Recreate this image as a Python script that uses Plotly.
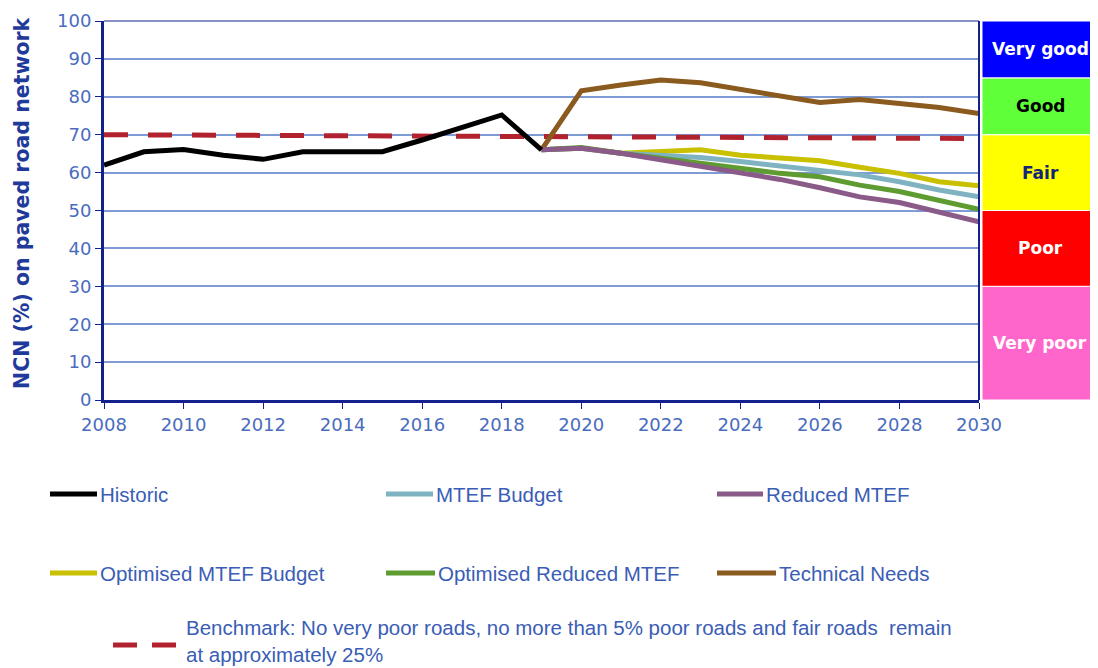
import plotly.graph_objects as go

# ---------------- data ----------------
hist_years = [2008, 2009, 2010, 2011, 2012, 2013, 2014, 2015, 2016, 2017, 2018, 2019]
historic = [62.0, 65.5, 66.1, 64.6, 63.5, 65.5, 65.5, 65.5, 68.6, 72.0, 75.2, 66.0]

proj_years = [2019, 2020, 2021, 2022, 2023, 2024, 2025, 2026, 2027, 2028, 2029, 2030]
mtef_budget = [66.0, 66.4, 65.1, 64.5, 64.0, 62.9, 61.7, 60.7, 59.4, 57.6, 55.4, 53.6]
reduced_mtef = [66.0, 66.4, 65.1, 63.3, 61.6, 59.8, 58.2, 56.0, 53.6, 52.1, 49.7, 47.0]
opt_mtef_budget = [66.0, 66.4, 65.1, 65.5, 66.0, 64.6, 63.8, 63.1, 61.4, 59.8, 57.6, 56.5]
opt_reduced_mtef = [66.0, 66.6, 65.1, 63.8, 62.4, 61.1, 59.8, 58.9, 56.7, 55.0, 52.8, 50.3]
technical_needs = [66.0, 81.6, 83.1, 84.4, 83.7, 82.0, 80.5, 78.5, 79.3, 78.3, 77.2, 75.6]

bench_years = [2008, 2030]
benchmark = [70.0, 69.0]

band_names = ["Very poor", "Poor", "Fair", "Good", "Very good"]
band_low = [0, 30, 50, 70, 85]
band_high = [30, 50, 70, 85, 100]
band_colors = ["#FF66CC", "#FF0000", "#FFFF00", "#5FFF3A", "#0000FF"]
band_text_colors = ["white", "white", "#14237A", "black", "white"]

series = [
    ("Historic", hist_years, historic, "#000000"),
    ("MTEF Budget", proj_years, mtef_budget, "#7FB3C2"),
    ("Reduced MTEF", proj_years, reduced_mtef, "#8A5A88"),
    ("Optimised MTEF Budget", proj_years, opt_mtef_budget, "#C8C000"),
    ("Optimised Reduced MTEF", proj_years, opt_reduced_mtef, "#5E9B30"),
    ("Technical Needs", proj_years, technical_needs, "#8B5A1E"),
]
bench_text = ("Benchmark: No very poor roads, no more than 5% poor roads and fair roads  remain<br>"
              "at approximately 25%")
bench_color = "#B2222E"
y_title = "NCN (%) on paved road network"

NAVY = "#14208C"
TICK_BLUE = "#4A6CBE"
LEG_BLUE = "#3A5DB5"
LEG_FONT = "Liberation Sans Narrow, Liberation Sans"

fig = go.Figure()

fig.add_trace(go.Scatter(x=bench_years, y=benchmark, mode="lines", name="Benchmark",
                         line=dict(color=bench_color, width=5, dash="24px,20px"),
                         showlegend=False))
order = [5, 3, 1, 4, 2, 0]
for i in order:
    name, xs, ys, col = series[i]
    fig.add_trace(go.Scatter(x=xs, y=ys, mode="lines", name=name,
                             line=dict(color=col, width=5), showlegend=False))

shapes = []
annotations = []

# the page body has an 8px margin, so the figure is laid out in page pixels minus 8
OFF = 8
W, H = 1098 - OFF, 668 - OFF
L, T = 104 - OFF, 21 - OFF
R = W - (979 - OFF)
B = H - (400 - OFF)
pw, ph = W - L - R, H - T - B


def px(x):
    return (x - OFF - L) / pw


def py(y):
    return (H - B - (y - OFF)) / ph


# condition bands at right
for lo, hi, col, nm, tc in zip(band_low, band_high, band_colors, band_names, band_text_colors):
    shapes.append(dict(type="rect", xref="paper", yref="y", x0=px(982), x1=px(1100),
                       y0=lo, y1=hi, fillcolor=col, line=dict(color="white", width=1),
                       layer="above"))
    annotations.append(dict(xref="paper", yref="y", x=px(1040), y=(lo + hi) / 2,
                            xanchor="center", yanchor="middle", text="<b>" + nm + "</b>",
                            showarrow=False, font=dict(family="DejaVu Sans", size=17, color=tc)))

# right and top frame lines
shapes.append(dict(type="line", xref="paper", yref="paper", x0=1, x1=1, y0=0, y1=1,
                   line=dict(color=NAVY, width=2)))
shapes.append(dict(type="line", xref="paper", yref="paper", x0=0, x1=1, y0=1, y1=1,
                   line=dict(color=NAVY, width=1)))

# y-axis title
annotations.append(dict(xref="paper", yref="paper", x=px(22), y=py(203), xanchor="center",
                        yanchor="middle", textangle=-90, text="<b>" + y_title + "</b>",
                        showarrow=False, font=dict(family="DejaVu Sans", size=20.5, color="#1F3A9A")))

# custom legend
legend_pos = [
    (0, 50, 97, 494), (1, 386, 433, 494), (2, 717, 763, 494),
    (3, 50, 97, 573), (4, 386, 435, 573), (5, 717, 776, 573),
]
for idx, x0, x1, yy in legend_pos:
    name, _, _, col = series[idx]
    shapes.append(dict(type="line", xref="paper", yref="paper", x0=px(x0), x1=px(x1),
                       y0=py(yy), y1=py(yy), line=dict(color=col, width=5)))
    annotations.append(dict(xref="paper", yref="paper", x=px(x1 + 1), y=py(yy), xanchor="left",
                            yanchor="middle", text=name, showarrow=False,
                            font=dict(family=LEG_FONT, size=20.5, color=LEG_BLUE)))

for a, b in [(113, 137), (152, 176)]:
    shapes.append(dict(type="line", xref="paper", yref="paper", x0=px(a), x1=px(b),
                       y0=py(645), y1=py(645), line=dict(color=bench_color, width=5)))
annotations.append(dict(xref="paper", yref="paper", x=px(184), y=py(641), xanchor="left",
                        yanchor="middle", align="left", text=bench_text, showarrow=False,
                        font=dict(family=LEG_FONT, size=20.5, color=LEG_BLUE)))

fig.update_layout(
    width=W, height=H,
    margin=dict(l=L, r=R, t=T, b=B, autoexpand=False),
    paper_bgcolor="white", plot_bgcolor="white",
    shapes=shapes, annotations=annotations,
    showlegend=False,
    xaxis=dict(range=[2008, 2030], tickmode="array", tickvals=list(range(2008, 2031, 2)),
               showgrid=False, zeroline=False, showline=True, linecolor=NAVY, linewidth=3,
               ticks="outside", ticklen=6, tickcolor=NAVY, tickwidth=1,
               tickfont=dict(family="DejaVu Sans", size=18, color=TICK_BLUE)),
    yaxis=dict(range=[0, 100], dtick=10, showgrid=True, gridcolor="#7F9BD6", gridwidth=1.5,
               zeroline=False, showline=True, linecolor=NAVY, linewidth=3,
               ticks="outside", ticklen=6, tickcolor=NAVY, tickwidth=1,
               tickfont=dict(family="DejaVu Sans", size=18, color=TICK_BLUE)),
)

fig.write_html("out.html")
